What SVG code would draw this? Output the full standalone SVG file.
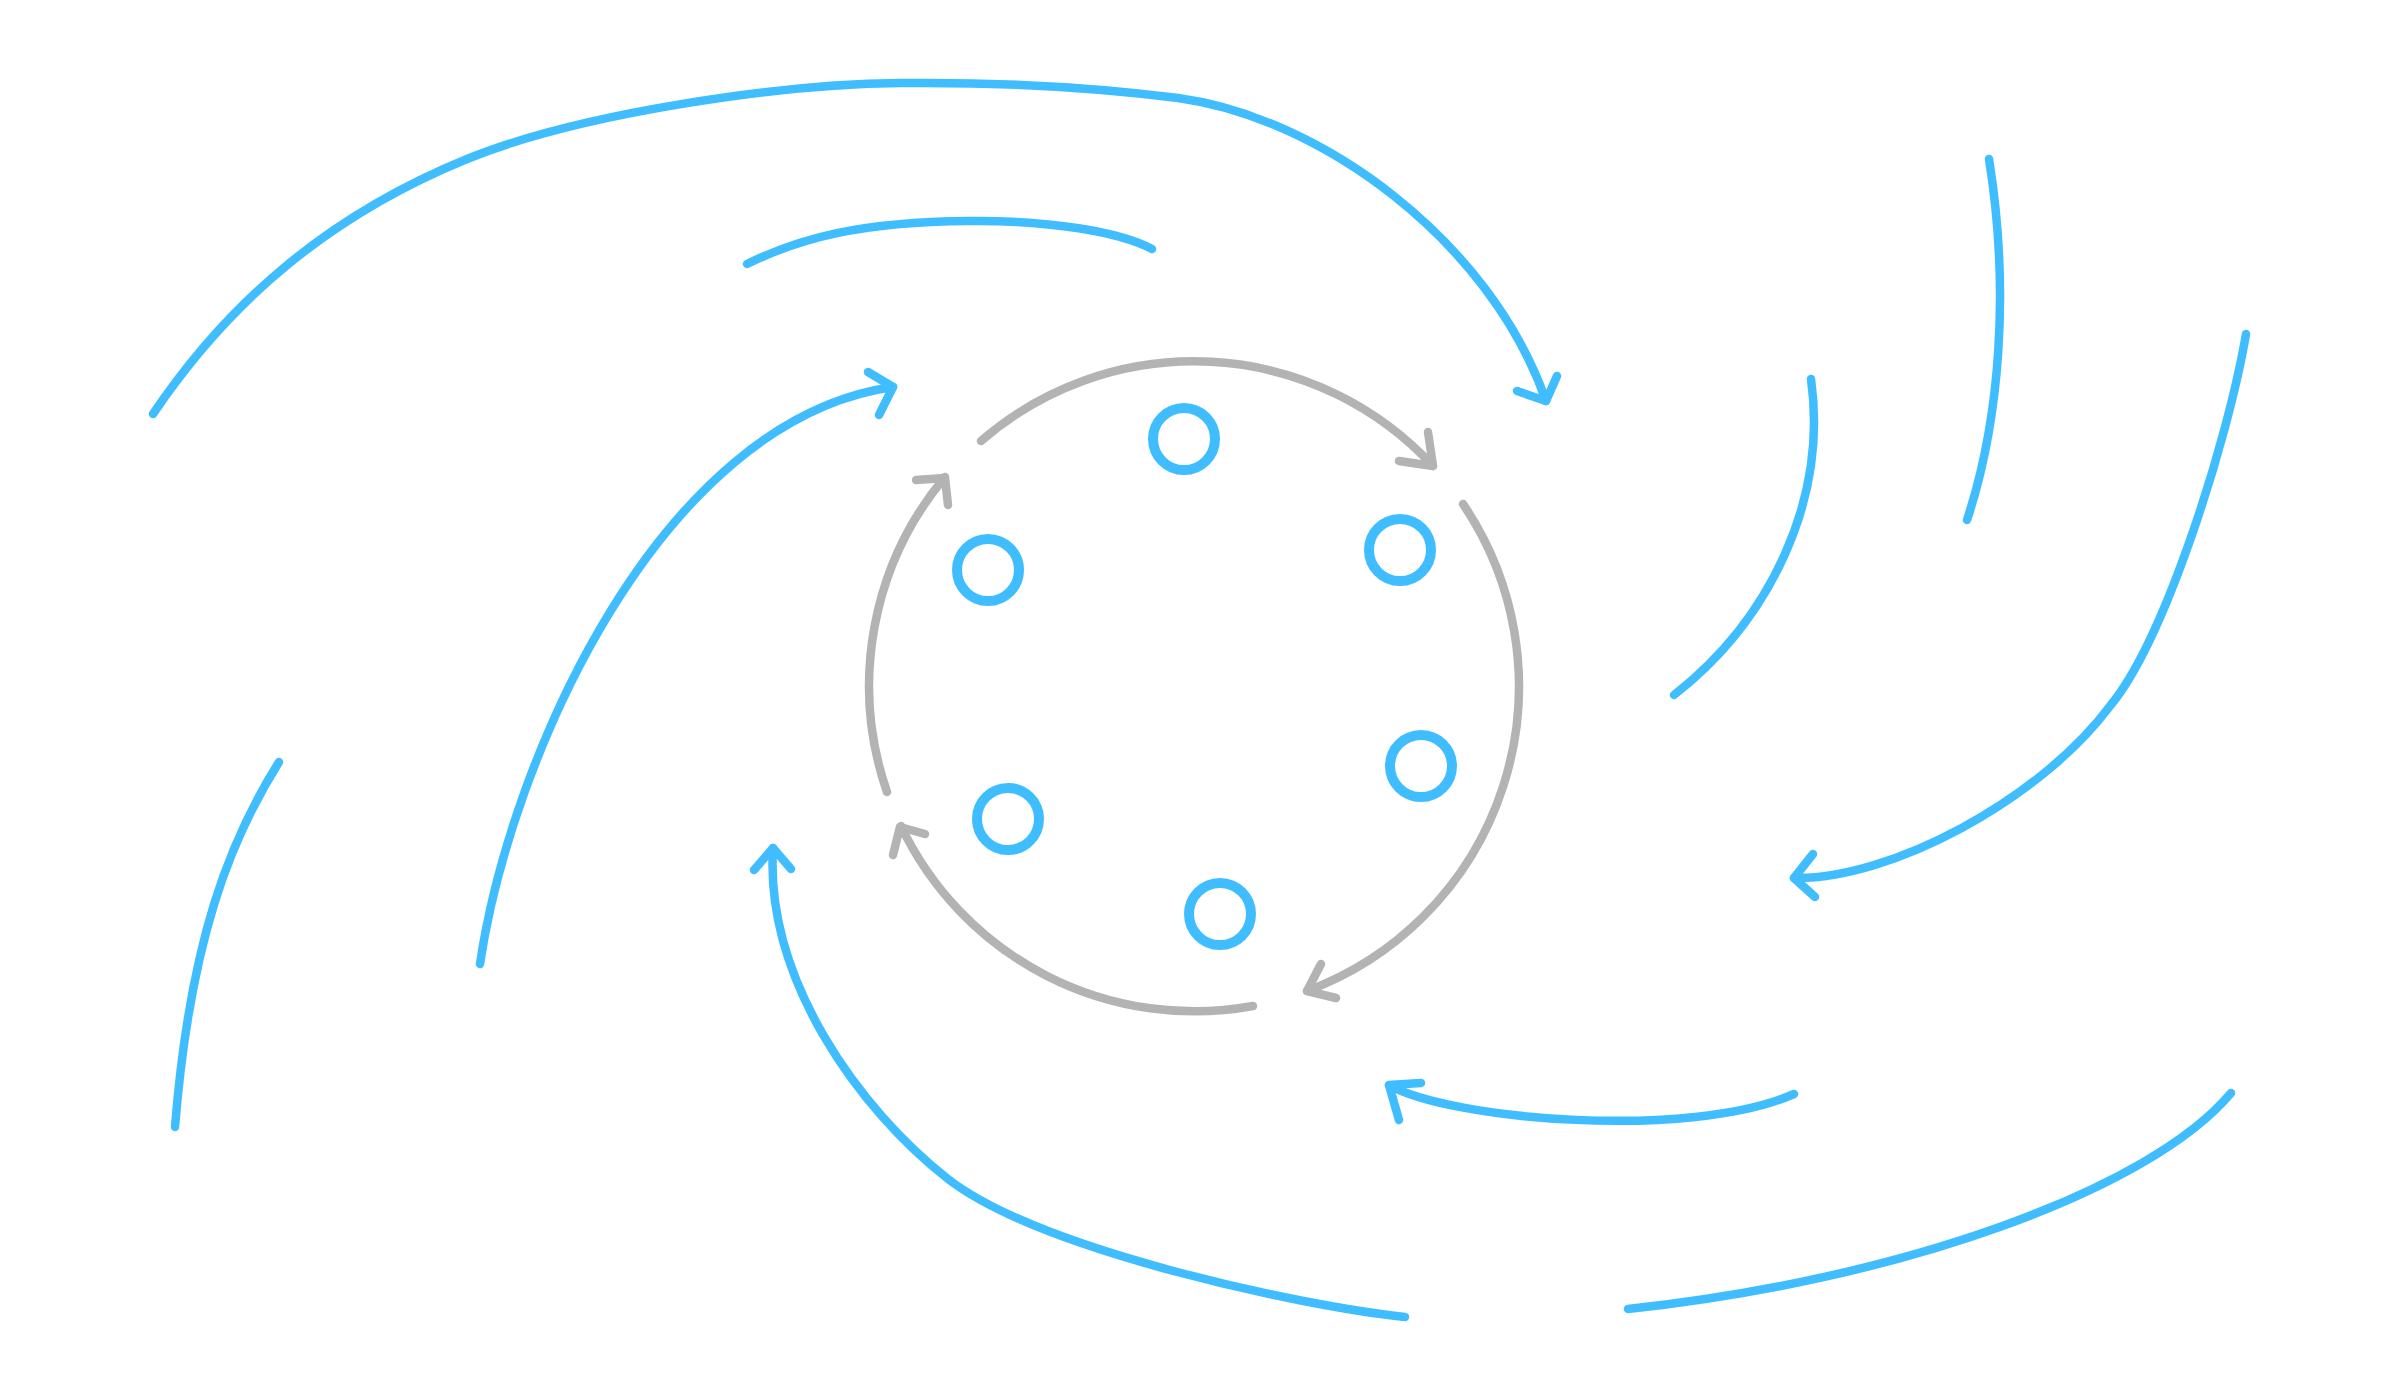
<svg xmlns="http://www.w3.org/2000/svg" width="2400" height="1400" viewBox="0 0 2400 1400">
  <style>
    .flow { fill: none; stroke: #40bdff; stroke-width: 8.5; stroke-linecap: round; stroke-linejoin: round; }
    .cycle { fill: none; stroke: #b3b3b3; stroke-width: 8.5; stroke-linecap: round; stroke-linejoin: round; }
    .node { fill: none; stroke: #40bdff; stroke-width: 10; }
  </style>
  <rect width="2400" height="1400" fill="#ffffff"/>

  <g id="nodes">
    <g id="node-1"><circle class="node" cx="1184" cy="439" r="31"/></g>
    <g id="node-2"><circle class="node" cx="1400" cy="550" r="31"/></g>
    <g id="node-3"><circle class="node" cx="1421" cy="766" r="31"/></g>
    <g id="node-4"><circle class="node" cx="1220" cy="914" r="31"/></g>
    <g id="node-5"><circle class="node" cx="1008" cy="819" r="31"/></g>
    <g id="node-6"><circle class="node" cx="988" cy="570" r="31"/></g>
  </g>

  <g id="connectors">
    <!-- central cycle -->
    <path class="cycle" d="M981,441 A325,325 0 0 1 1433,466"/>
    <path class="cycle" d="M1428,432 L1433,466 L1399,461"/>
    <path class="cycle" d="M1463,504 A325,325 0 0 1 1307,991"/>
    <path class="cycle" d="M1321,964 L1307,991 L1336,998"/>
    <path class="cycle" d="M1253,1006 A325,325 0 0 1 901,826"/>
    <path class="cycle" d="M925,834 L900,827 L893,855"/>
    <path class="cycle" d="M887,792 A325,325 0 0 1 945,477"/>
    <path class="cycle" d="M916,480 L945,478 L948,505"/>

    <!-- outer flows -->
    <path class="flow" d="M153,414 C230,300 330,215 467,159 C580,113 780,84 900,83 C1000,82 1100,88 1178,98 C1320,117 1490,240 1546,401"/>
    <path class="flow" d="M1517,391 L1546,401 L1557,376"/>

    <path class="flow" d="M747,264 C800,238 860,222 968,221 C1050,220 1120,232 1152,249"/>

    <path class="flow" d="M480,964 C510,760 660,420 893,387"/>
    <path class="flow" d="M868,372 L893,387 L879,415"/>

    <path class="flow" d="M279,762 C230,840 190,940 175,1127"/>

    <path class="flow" d="M1405,1317 C1300,1306 1040,1250 948,1179 C860,1110 765,980 773,848"/>
    <path class="flow" d="M754,870 L773,848 L791,869"/>

    <path class="flow" d="M1794,1094 C1690,1140 1450,1120 1389,1085"/>
    <path class="flow" d="M1421,1083 L1389,1085 L1399,1120"/>

    <path class="flow" d="M2231,1093 C2150,1190 1900,1280 1628,1309"/>

    <path class="flow" d="M2246,334 C2228,440 2165,640 2110,706 C2040,800 1890,880 1794,878"/>
    <path class="flow" d="M1813,854 L1794,878 L1815,897"/>

    <path class="flow" d="M1989,159 C2010,290 2000,420 1967,520"/>

    <path class="flow" d="M1811,379 C1828,500 1770,620 1674,695"/>
  </g>
</svg>
